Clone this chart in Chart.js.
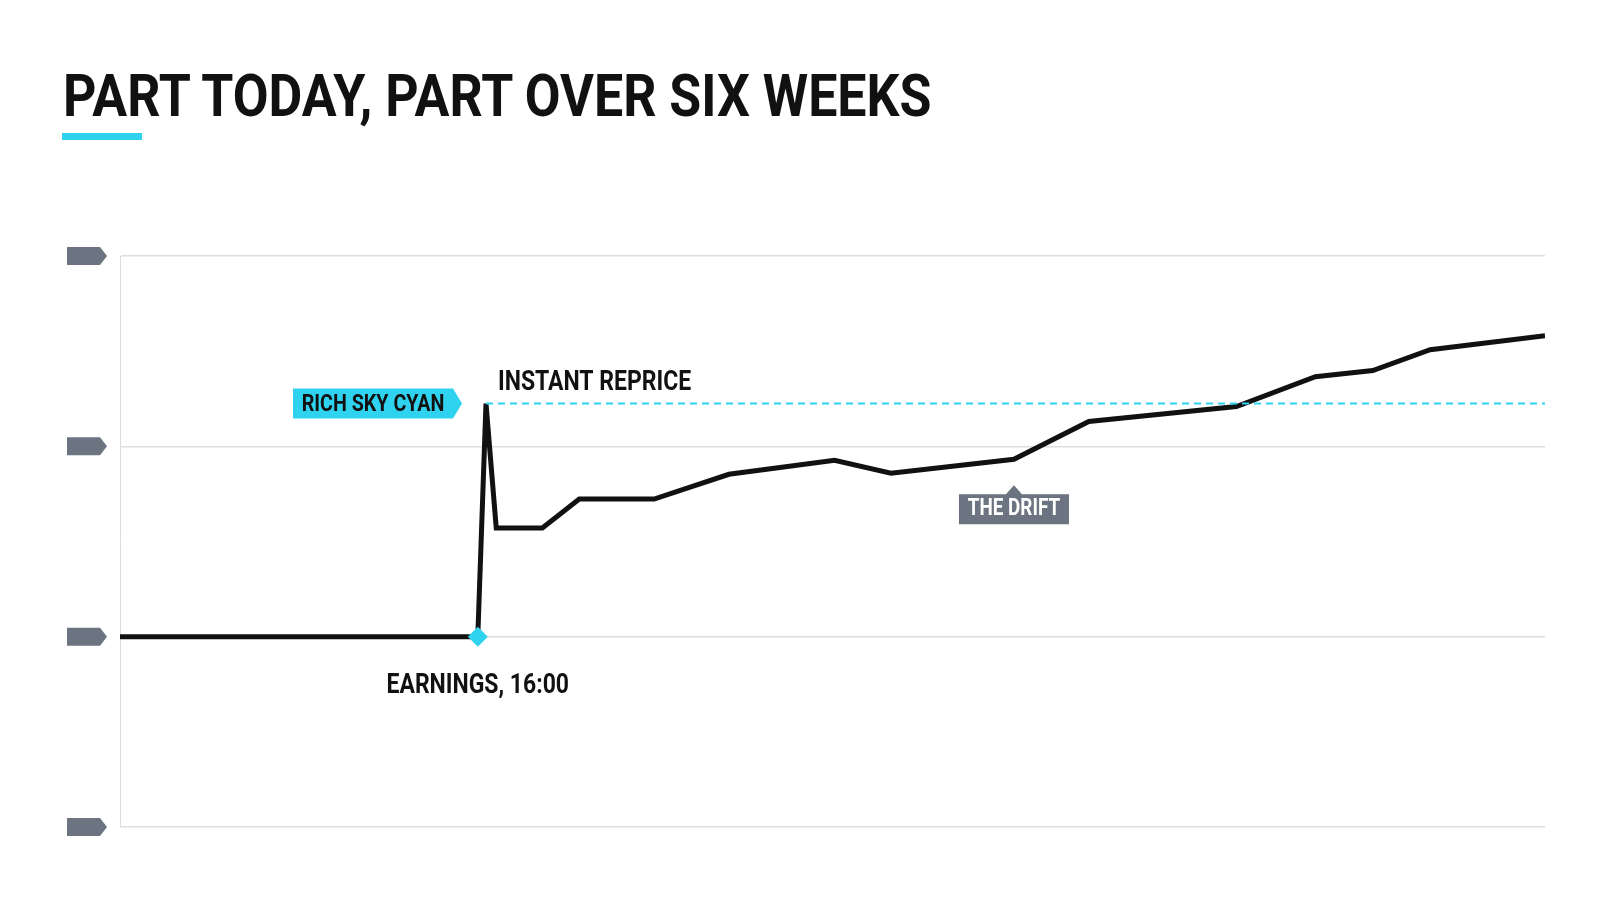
<!DOCTYPE html>
<html><head><meta charset="utf-8">
<script src="https://cdn.jsdelivr.net/npm/chart.js@4/dist/chart.umd.min.js"></script>
<style>
html,body{margin:0;padding:0;background:#fff;width:1600px;height:914px;overflow:hidden}
#t{position:absolute;left:63px;top:60px;font-family:Roboto;font-weight:700;font-size:60px;color:#111;transform:scaleX(0.865);transform-origin:left top;white-space:nowrap}
#u{position:absolute;left:62px;top:133px;width:80px;height:7px;background:#2fd3ef}
#w{position:absolute;left:0;top:0;width:1600px;height:914px}
</style></head><body>
<div id="t">PART TODAY, PART OVER SIX WEEKS</div><div id="u"></div>
<div id="w"><canvas id="c"></canvas></div>
<script>
const times=[0,349,357,367,412,448,521,594,697,752,872,945,1089,1166,1222,1278,1390];
const prices=[1,1,2.225,1.571,1.571,1.723,1.723,1.853,1.927,1.859,1.932,2.131,2.209,2.366,2.398,2.508,2.581];
const repriceLevel=2.225;
const yTicks=[0,1,2,3];
const CYAN='#2fd3ef', GRAY='#6b7480';
function ctext(ctx,txt,x,y,size,color,align){
  ctx.save();ctx.font='700 '+size+'px Roboto';ctx.fillStyle=color;ctx.textBaseline='middle';
  const w=ctx.measureText(txt).width*0.82;
  let x0=align==='center'?x-w/2:(align==='right'?x-w:x);
  ctx.translate(x0,y);ctx.scale(0.82,1);ctx.textAlign='left';ctx.fillText(txt,0,0);ctx.restore();return w;}
const deco={id:'deco',afterDraw(ch){
  const ctx=ch.ctx,xs=ch.scales.x,ys=ch.scales.y,a=ch.chartArea;
  ctx.save();
  yTicks.forEach(v=>{const y=ys.getPixelForValue(v);ctx.fillStyle=GRAY;ctx.beginPath();
    ctx.moveTo(67,y-9);ctx.lineTo(100,y-9);ctx.lineTo(107,y);ctx.lineTo(100,y+9);ctx.lineTo(67,y+9);ctx.closePath();ctx.fill();});
  const ry=ys.getPixelForValue(repriceLevel),rx=xs.getPixelForValue(times[2]);
  ctx.strokeStyle=CYAN;ctx.lineWidth=2;ctx.setLineDash([7,5]);ctx.beginPath();ctx.moveTo(rx,ry);ctx.lineTo(a.right,ry);ctx.stroke();ctx.setLineDash([]);
  ctx.fillStyle=CYAN;ctx.beginPath();ctx.moveTo(293,ry-15);ctx.lineTo(453,ry-15);ctx.lineTo(462,ry);ctx.lineTo(453,ry+15);ctx.lineTo(293,ry+15);ctx.closePath();ctx.fill();
  ctext(ctx,'RICH SKY CYAN',373,ry+1,24,'#111','center');
  ctext(ctx,'INSTANT REPRICE',rx+12,ry-21,28,'#111','left');
  const ex=xs.getPixelForValue(times[1]),ey=ys.getPixelForValue(prices[1]);
  ctext(ctx,'EARNINGS, 16:00',ex,ey+49,28,'#111','center');
  ctx.fillStyle=CYAN;ctx.beginPath();ctx.moveTo(ex,ey-10);ctx.lineTo(ex+10,ey);ctx.lineTo(ex,ey+10);ctx.lineTo(ex-10,ey);ctx.closePath();ctx.fill();
  const dx=xs.getPixelForValue(times[10]),dy=ys.getPixelForValue(prices[10]);
  ctx.fillStyle=GRAY;ctx.beginPath();ctx.moveTo(dx-55,dy+35);ctx.lineTo(dx-8,dy+35);ctx.lineTo(dx,dy+26);ctx.lineTo(dx+8,dy+35);ctx.lineTo(dx+55,dy+35);ctx.lineTo(dx+55,dy+65);ctx.lineTo(dx-55,dy+65);ctx.closePath();ctx.fill();
  ctext(ctx,'THE DRIFT',dx,dy+50,23,'#fff','center');
  ctx.restore();}};
new Chart(document.getElementById('c'),{type:'line',
 data:{datasets:[{data:times.map((t,i)=>({x:t,y:prices[i]})),borderColor:'#111',borderWidth:5,pointRadius:0,tension:0,borderJoinStyle:'miter'}]},
 options:{responsive:true,maintainAspectRatio:false,animation:false,
  layout:{padding:{left:120,right:55,top:256,bottom:79}},
  plugins:{legend:{display:false},tooltip:{enabled:false}},
  scales:{x:{type:'linear',min:0,max:1390,ticks:{display:false},grid:{display:false},border:{display:false}},
   y:{min:0,max:3,afterBuildTicks:s=>{s.ticks=yTicks.map(v=>({value:v}));},ticks:{display:false},grid:{color:'#dedede',lineWidth:1.5,drawTicks:false},border:{display:true,color:'#dcdcdc'}}}},
 plugins:[deco]});
</script></body></html>
